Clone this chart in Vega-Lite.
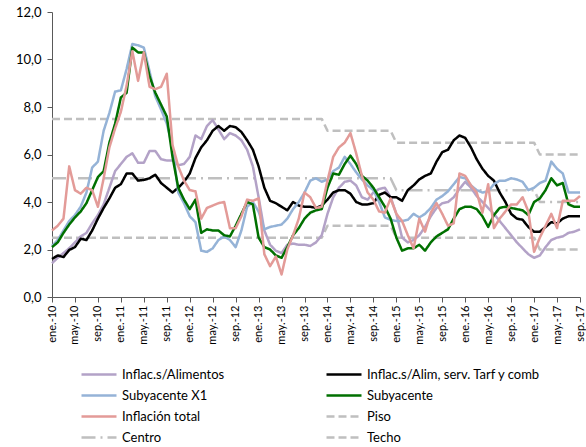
{
"$schema": "https://vega.github.io/schema/vega-lite/v6.json",
"width": 528, "height": 285,
"autosize": {"type": "none"},
"padding": {"left": 52, "top": 12, "right": 6, "bottom": 150},
"background": "white",
"config": {"view": {"stroke": null}, "font": "Lato"},
"data": {"values": [
{"mes":"ene.-10","a":1.42,"b":1.6,"x":2.15,"g":2.1,"t":2.8,"piso":2.5,"centro":5,"techo":7.5},
{"mes":"feb.-10","a":1.65,"b":1.75,"x":2.4,"g":2.3,"t":3.0,"piso":2.5,"centro":5,"techo":7.5},
{"mes":"mar.-10","a":1.85,"b":1.68,"x":2.8,"g":2.7,"t":3.3,"piso":2.5,"centro":5,"techo":7.5},
{"mes":"abr.-10","a":2.05,"b":1.98,"x":3.2,"g":3.05,"t":5.5,"piso":2.5,"centro":5,"techo":7.5},
{"mes":"may.-10","a":2.3,"b":2.1,"x":3.45,"g":3.35,"t":4.5,"piso":2.5,"centro":5,"techo":7.5},
{"mes":"jun.-10","a":2.55,"b":2.45,"x":3.8,"g":3.6,"t":4.35,"piso":2.5,"centro":5,"techo":7.5},
{"mes":"jul.-10","a":2.7,"b":2.4,"x":4.4,"g":3.95,"t":4.6,"piso":2.5,"centro":5,"techo":7.5},
{"mes":"ago.-10","a":3.1,"b":2.8,"x":5.45,"g":4.5,"t":4.5,"piso":2.5,"centro":5,"techo":7.5},
{"mes":"sep.-10","a":3.45,"b":3.3,"x":5.7,"g":5.05,"t":3.8,"piso":2.5,"centro":5,"techo":7.5},
{"mes":"oct.-10","a":3.9,"b":3.75,"x":7.0,"g":5.3,"t":5.0,"piso":2.5,"centro":5,"techo":7.5},
{"mes":"nov.-10","a":4.6,"b":4.15,"x":7.75,"g":6.5,"t":6.3,"piso":2.5,"centro":5,"techo":7.5},
{"mes":"dic.-10","a":5.3,"b":4.6,"x":8.65,"g":7.3,"t":7.1,"piso":2.5,"centro":5,"techo":7.5},
{"mes":"ene.-11","a":5.6,"b":4.75,"x":8.7,"g":8.4,"t":7.8,"piso":2.5,"centro":5,"techo":7.5},
{"mes":"feb.-11","a":5.9,"b":5.2,"x":9.6,"g":8.6,"t":8.9,"piso":2.5,"centro":5,"techo":7.5},
{"mes":"mar.-11","a":6.05,"b":5.2,"x":10.65,"g":10.5,"t":10.35,"piso":2.5,"centro":5,"techo":7.5},
{"mes":"abr.-11","a":5.65,"b":4.9,"x":10.6,"g":10.3,"t":9.1,"piso":2.5,"centro":5,"techo":7.5},
{"mes":"may.-11","a":5.65,"b":4.93,"x":10.5,"g":10.3,"t":10.3,"piso":2.5,"centro":5,"techo":7.5},
{"mes":"jun.-11","a":6.15,"b":5.0,"x":9.5,"g":9.3,"t":8.85,"piso":2.5,"centro":5,"techo":7.5},
{"mes":"jul.-11","a":6.15,"b":5.15,"x":8.45,"g":8.6,"t":8.75,"piso":2.5,"centro":5,"techo":7.5},
{"mes":"ago.-11","a":5.8,"b":4.8,"x":7.9,"g":8.1,"t":8.85,"piso":2.5,"centro":5,"techo":7.5},
{"mes":"sep.-11","a":5.75,"b":4.6,"x":7.3,"g":7.6,"t":9.4,"piso":2.5,"centro":5,"techo":7.5},
{"mes":"oct.-11","a":5.75,"b":4.4,"x":6.3,"g":5.9,"t":6.4,"piso":2.5,"centro":5,"techo":7.5},
{"mes":"nov.-11","a":5.55,"b":4.6,"x":4.4,"g":4.6,"t":5.5,"piso":2.5,"centro":5,"techo":7.5},
{"mes":"dic.-11","a":5.6,"b":4.85,"x":3.95,"g":4.1,"t":4.9,"piso":2.5,"centro":5,"techo":7.5},
{"mes":"ene.-12","a":5.9,"b":5.2,"x":3.4,"g":3.7,"t":4.5,"piso":2.5,"centro":5,"techo":7.5},
{"mes":"feb.-12","a":6.8,"b":5.85,"x":3.15,"g":4.1,"t":4.45,"piso":2.5,"centro":5,"techo":7.5},
{"mes":"mar.-12","a":6.65,"b":6.3,"x":1.95,"g":2.7,"t":3.3,"piso":2.5,"centro":5,"techo":7.5},
{"mes":"abr.-12","a":7.2,"b":6.6,"x":1.9,"g":2.85,"t":3.75,"piso":2.5,"centro":5,"techo":7.5},
{"mes":"may.-12","a":7.45,"b":7.0,"x":2.05,"g":2.8,"t":3.85,"piso":2.5,"centro":5,"techo":7.5},
{"mes":"jun.-12","a":7.05,"b":7.2,"x":2.4,"g":2.8,"t":3.95,"piso":2.5,"centro":5,"techo":7.5},
{"mes":"jul.-12","a":6.65,"b":7.0,"x":2.55,"g":2.6,"t":4.0,"piso":2.5,"centro":5,"techo":7.5},
{"mes":"ago.-12","a":6.9,"b":7.2,"x":2.4,"g":2.55,"t":2.9,"piso":2.5,"centro":5,"techo":7.5},
{"mes":"sep.-12","a":6.8,"b":7.15,"x":2.1,"g":3.0,"t":2.9,"piso":2.5,"centro":5,"techo":7.5},
{"mes":"oct.-12","a":6.6,"b":6.95,"x":2.8,"g":3.5,"t":3.4,"piso":2.5,"centro":5,"techo":7.5},
{"mes":"nov.-12","a":6.2,"b":6.6,"x":3.8,"g":4.0,"t":4.1,"piso":2.5,"centro":5,"techo":7.5},
{"mes":"dic.-12","a":5.5,"b":6.2,"x":4.0,"g":3.9,"t":4.05,"piso":2.5,"centro":5,"techo":7.5},
{"mes":"ene.-13","a":4.2,"b":5.5,"x":3.6,"g":2.5,"t":4.15,"piso":2.5,"centro":5,"techo":7.5},
{"mes":"feb.-13","a":2.8,"b":4.6,"x":2.85,"g":2.1,"t":1.8,"piso":2.5,"centro":5,"techo":7.5},
{"mes":"mar.-13","a":2.2,"b":4.05,"x":2.95,"g":2.0,"t":1.3,"piso":2.5,"centro":5,"techo":7.5},
{"mes":"abr.-13","a":1.95,"b":3.95,"x":3.0,"g":1.75,"t":1.7,"piso":2.5,"centro":5,"techo":7.5},
{"mes":"may.-13","a":1.85,"b":3.8,"x":3.05,"g":1.65,"t":0.95,"piso":2.5,"centro":5,"techo":7.5},
{"mes":"jun.-13","a":2.2,"b":3.65,"x":3.3,"g":2.1,"t":2.0,"piso":2.5,"centro":5,"techo":7.5},
{"mes":"jul.-13","a":2.25,"b":4.0,"x":3.7,"g":2.6,"t":2.6,"piso":2.5,"centro":5,"techo":7.5},
{"mes":"ago.-13","a":2.2,"b":3.85,"x":4.0,"g":2.9,"t":3.3,"piso":2.5,"centro":5,"techo":7.5},
{"mes":"sep.-13","a":2.2,"b":3.8,"x":4.4,"g":3.3,"t":4.4,"piso":2.5,"centro":5,"techo":7.5},
{"mes":"oct.-13","a":2.15,"b":3.8,"x":4.9,"g":3.55,"t":4.2,"piso":2.5,"centro":5,"techo":7.5},
{"mes":"nov.-13","a":2.3,"b":3.75,"x":5.0,"g":3.65,"t":3.75,"piso":2.5,"centro":5,"techo":7.5},
{"mes":"dic.-13","a":2.6,"b":3.85,"x":4.85,"g":3.7,"t":3.8,"piso":2.5,"centro":5,"techo":7.5},
{"mes":"ene.-14","a":3.5,"b":4.1,"x":4.95,"g":4.6,"t":4.9,"piso":3,"centro":5,"techo":7},
{"mes":"feb.-14","a":4.2,"b":4.4,"x":5.3,"g":5.2,"t":5.9,"piso":3,"centro":5,"techo":7},
{"mes":"mar.-14","a":4.6,"b":4.5,"x":5.45,"g":5.15,"t":6.3,"piso":3,"centro":5,"techo":7},
{"mes":"abr.-14","a":4.85,"b":4.5,"x":5.9,"g":5.6,"t":6.5,"piso":3,"centro":5,"techo":7},
{"mes":"may.-14","a":4.9,"b":4.35,"x":5.6,"g":5.95,"t":6.9,"piso":3,"centro":5,"techo":7},
{"mes":"jun.-14","a":4.7,"b":4.0,"x":5.25,"g":5.6,"t":6.05,"piso":3,"centro":5,"techo":7},
{"mes":"jul.-14","a":4.2,"b":3.9,"x":4.95,"g":5.1,"t":5.1,"piso":3,"centro":5,"techo":7},
{"mes":"ago.-14","a":4.1,"b":3.9,"x":4.7,"g":4.9,"t":4.4,"piso":3,"centro":5,"techo":7},
{"mes":"sep.-14","a":4.4,"b":3.95,"x":4.5,"g":4.6,"t":4.1,"piso":3,"centro":5,"techo":7},
{"mes":"oct.-14","a":4.55,"b":4.3,"x":4.0,"g":4.2,"t":3.6,"piso":3,"centro":5,"techo":7},
{"mes":"nov.-14","a":4.6,"b":4.4,"x":3.35,"g":3.8,"t":3.55,"piso":3,"centro":5,"techo":7},
{"mes":"dic.-14","a":4.2,"b":4.2,"x":3.25,"g":3.3,"t":4.15,"piso":3,"centro":5,"techo":7},
{"mes":"ene.-15","a":3.5,"b":4.2,"x":3.2,"g":2.5,"t":3.5,"piso":2.5,"centro":4.5,"techo":6.5},
{"mes":"feb.-15","a":2.5,"b":4.05,"x":3.2,"g":1.95,"t":3.2,"piso":2.5,"centro":4.5,"techo":6.5},
{"mes":"mar.-15","a":2.3,"b":4.5,"x":3.25,"g":2.05,"t":2.6,"piso":2.5,"centro":4.5,"techo":6.5},
{"mes":"abr.-15","a":2.4,"b":4.7,"x":3.5,"g":2.05,"t":2.05,"piso":2.5,"centro":4.5,"techo":6.5},
{"mes":"may.-15","a":2.6,"b":4.95,"x":3.35,"g":2.2,"t":3.3,"piso":2.5,"centro":4.5,"techo":6.5},
{"mes":"jun.-15","a":2.95,"b":5.1,"x":3.5,"g":1.95,"t":2.75,"piso":2.5,"centro":4.5,"techo":6.5},
{"mes":"jul.-15","a":3.4,"b":5.2,"x":3.75,"g":2.3,"t":3.55,"piso":2.5,"centro":4.5,"techo":6.5},
{"mes":"ago.-15","a":3.75,"b":5.7,"x":4.1,"g":2.55,"t":3.95,"piso":2.5,"centro":4.5,"techo":6.5},
{"mes":"sep.-15","a":3.95,"b":6.1,"x":4.25,"g":2.7,"t":3.5,"piso":2.5,"centro":4.5,"techo":6.5},
{"mes":"oct.-15","a":4.0,"b":6.2,"x":4.45,"g":2.85,"t":3.0,"piso":2.5,"centro":4.5,"techo":6.5},
{"mes":"nov.-15","a":4.2,"b":6.6,"x":4.75,"g":3.3,"t":3.1,"piso":2.5,"centro":4.5,"techo":6.5},
{"mes":"dic.-15","a":4.55,"b":6.8,"x":5.05,"g":3.7,"t":5.2,"piso":2.5,"centro":4.5,"techo":6.5},
{"mes":"ene.-16","a":4.85,"b":6.7,"x":5.0,"g":3.8,"t":5.1,"piso":2.5,"centro":4.5,"techo":6.5},
{"mes":"feb.-16","a":4.6,"b":6.3,"x":4.7,"g":3.8,"t":4.7,"piso":2.5,"centro":4.5,"techo":6.5},
{"mes":"mar.-16","a":4.25,"b":5.8,"x":4.5,"g":3.7,"t":4.4,"piso":2.5,"centro":4.5,"techo":6.5},
{"mes":"abr.-16","a":4.0,"b":5.4,"x":4.4,"g":3.4,"t":3.55,"piso":2.5,"centro":4.5,"techo":6.5},
{"mes":"may.-16","a":3.75,"b":5.1,"x":4.45,"g":2.95,"t":4.75,"piso":2.5,"centro":4.5,"techo":6.5},
{"mes":"jun.-16","a":3.5,"b":4.9,"x":4.75,"g":3.45,"t":2.9,"piso":2.5,"centro":4.5,"techo":6.5},
{"mes":"jul.-16","a":3.2,"b":4.4,"x":4.9,"g":3.75,"t":3.3,"piso":2.5,"centro":4.5,"techo":6.5},
{"mes":"ago.-16","a":2.9,"b":4.0,"x":4.9,"g":3.8,"t":3.6,"piso":2.5,"centro":4.5,"techo":6.5},
{"mes":"sep.-16","a":2.6,"b":3.5,"x":5.0,"g":3.75,"t":3.9,"piso":2.5,"centro":4.5,"techo":6.5},
{"mes":"oct.-16","a":2.3,"b":3.3,"x":4.95,"g":3.7,"t":3.9,"piso":2.5,"centro":4.5,"techo":6.5},
{"mes":"nov.-16","a":2.05,"b":3.25,"x":4.85,"g":3.65,"t":4.2,"piso":2.5,"centro":4.5,"techo":6.5},
{"mes":"dic.-16","a":1.8,"b":2.95,"x":4.5,"g":3.45,"t":3.6,"piso":2.5,"centro":4.5,"techo":6.5},
{"mes":"ene.-17","a":1.65,"b":2.75,"x":4.6,"g":4.0,"t":1.9,"piso":2.5,"centro":4.5,"techo":6.5},
{"mes":"feb.-17","a":1.75,"b":2.75,"x":4.8,"g":4.15,"t":2.5,"piso":2,"centro":4,"techo":6},
{"mes":"mar.-17","a":2.1,"b":2.95,"x":4.9,"g":4.5,"t":3.0,"piso":2,"centro":4,"techo":6},
{"mes":"abr.-17","a":2.4,"b":3.15,"x":5.7,"g":5.0,"t":3.5,"piso":2,"centro":4,"techo":6},
{"mes":"may.-17","a":2.5,"b":3.1,"x":5.4,"g":4.7,"t":2.9,"piso":2,"centro":4,"techo":6},
{"mes":"jun.-17","a":2.55,"b":3.3,"x":5.2,"g":4.8,"t":4.05,"piso":2,"centro":4,"techo":6},
{"mes":"jul.-17","a":2.7,"b":3.4,"x":4.4,"g":3.9,"t":4.05,"piso":2,"centro":4,"techo":6},
{"mes":"ago.-17","a":2.75,"b":3.4,"x":4.4,"g":3.8,"t":4.05,"piso":2,"centro":4,"techo":6},
{"mes":"sep.-17","a":2.85,"b":3.4,"x":4.4,"g":3.8,"t":4.25,"piso":2,"centro":4,"techo":6}
]},
"transform": [{"fold": ["piso","centro","techo","a","b","x","g","t"], "as": ["s","v"]}],
"mark": {"type": "line", "strokeWidth": 2.5, "strokeJoin": "round"},
"encoding": {
  "x": {"field": "mes", "type": "ordinal", "sort": null,
        "scale": {"type": "point", "padding": 0},
        "axis": {"title": null, "values": ["ene.-10","may.-10","sep.-10","ene.-11","may.-11","sep.-11","ene.-12","may.-12","sep.-12","ene.-13","may.-13","sep.-13","ene.-14","may.-14","sep.-14","ene.-15","may.-15","sep.-15","ene.-16","may.-16","sep.-16","ene.-17","may.-17","sep.-17"],
                 "labelAngle": -90, "labelFontSize": 11, "labelColor": "#000000", "labelPadding": 3,
                 "tickSize": 5, "tickColor": "#595959", "domainColor": "#595959", "domainWidth": 1, "grid": false}},
  "y": {"field": "v", "type": "quantitative",
        "scale": {"domain": [0, 12], "nice": false},
        "axis": {"title": null, "values": [0,2,4,6,8,10,12], "grid": false,
                 "labelExpr": "replace(format(datum.value, '.1f'), '.', ',')",
                 "labelFontSize": 13, "labelColor": "#000000", "labelPadding": 6,
                 "tickSize": 5, "tickColor": "#595959", "domainColor": "#595959", "domainWidth": 1}},
  "color": {"field": "s", "type": "nominal",
        "scale": {"domain": ["a","x","t","centro","b","g","piso","techo"],
                  "range": ["#b3a2c7","#95b3d7","#e39b98","#bfbfbf","#000000","#007000","#bfbfbf","#bfbfbf"]},
        "legend": {"title": null, "orient": "none", "legendX": 28, "legendY": 352, "columns": 2,
                   "symbolType": "stroke", "symbolSize": 1225, "symbolStrokeWidth": 2.5,
                   "labelFontSize": 13, "labelColor": "#000000", "labelOffset": 4, "labelLimit": 400,
                   "columnPadding": 100, "rowPadding": 0, "clipHeight": 21,
                   "labelExpr": "datum.label == 'a' ? 'Inflac.s/Alimentos' : datum.label == 'b' ? 'Inflac.s/Alim, serv. Tarf y comb' : datum.label == 'x' ? 'Subyacente X1' : datum.label == 'g' ? 'Subyacente' : datum.label == 't' ? 'Inflación total' : datum.label == 'piso' ? 'Piso' : datum.label == 'centro' ? 'Centro' : 'Techo'"}},
  "strokeDash": {"field": "s", "type": "nominal",
        "scale": {"domain": ["a","x","t","centro","b","g","piso","techo"],
                  "range": [[1,0],[1,0],[1,0],[14,5,2,5],[1,0],[1,0],[8,4],[8,4]]}}
}
}
